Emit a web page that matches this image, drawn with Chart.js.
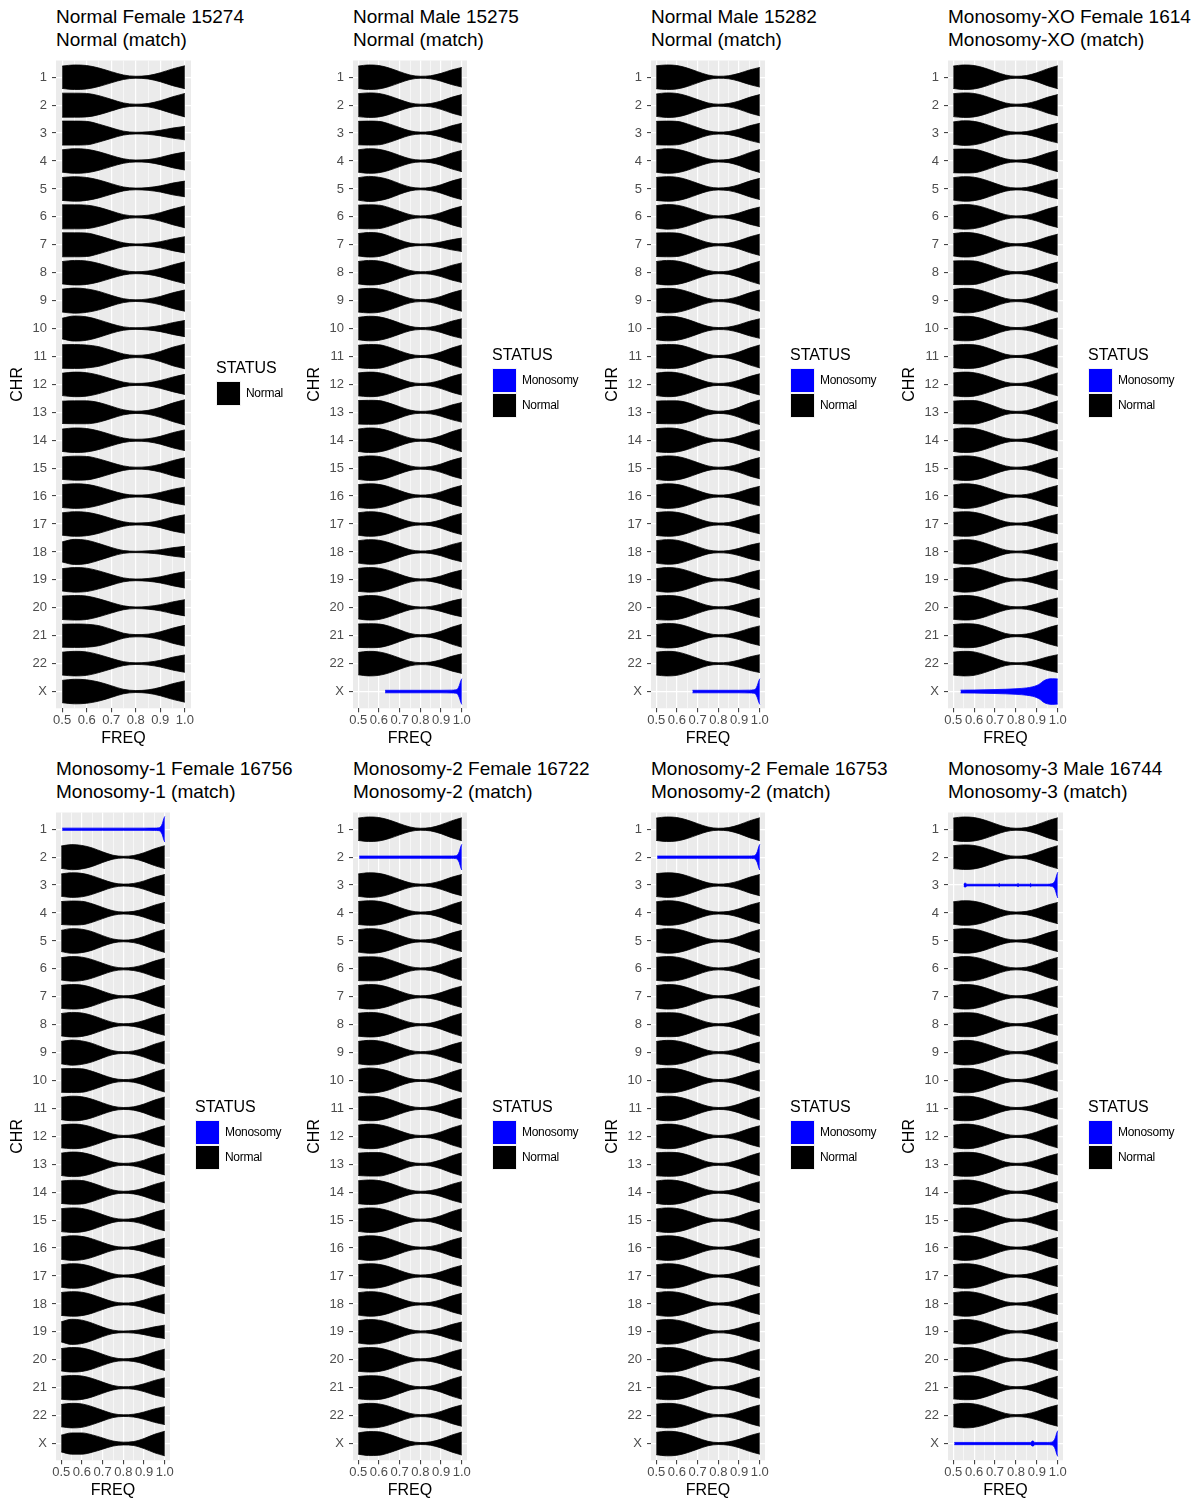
<!DOCTYPE html>
<html lang="en">
<head>
<meta charset="UTF-8">
<title>Allele frequency violins by chromosome</title>
<style>
  body {
    margin: 0;
    background: #fff;
    font-family: "Liberation Sans", Arial, sans-serif;
  }
  #page {
    position: relative;
    width: 1204px;
    height: 1502px;
    overflow: hidden;
  }
  canvas { position: absolute; }
  .ptitle {
    position: absolute;
    font-size: 19px;
    line-height: 23px;
    color: #000;
    white-space: nowrap;
  }
  .legend { position: absolute; }
  .legend .lt {
    font-size: 16px;
    line-height: 18px;
    height: 22px;
  }
  .legend .row {
    position: relative;
    height: 25px;
  }
  .legend .key {
    position: absolute;
    left: 0; top: 0;
    width: 25px; height: 25px;
    background: #f2f2f2;
  }
  .legend .key i {
    position: absolute;
    left: 1px; top: 1px;
    width: 23px; height: 23px;
  }
  .legend .lab {
    position: absolute;
    left: 30px;
    top: 0;
    font-size: 12px;
    line-height: 25px;
    letter-spacing: -0.3px;
    white-space: nowrap;
  }
</style>
<script src="https://cdn.jsdelivr.net/npm/chart.js"></script>
</head>
<body>
<div id="page"></div>

<script>
const CHR = ['1','2','3','4','5','6','7','8','9','10','11','12','13','14','15','16','17','18','19','20','21','22','X'];
const FREQ_TICKS = [0.5, 0.6, 0.7, 0.8, 0.9, 1.0];
const FREQ_MINOR = [0.55, 0.65, 0.75, 0.85, 0.95];
// x positions where the violin half-widths below were read
const GRID_X = [0.5, 0.55, 0.6, 0.65, 0.7, 0.75, 0.8, 0.85, 0.9, 0.95, 1.0];

const TITLES = ['Normal Female 15274', 'Normal Male 15275', 'Normal Male 15282', 'Monosomy-XO Female 1614',
                'Monosomy-1 Female 16756', 'Monosomy-2 Female 16722', 'Monosomy-2 Female 16753', 'Monosomy-3 Male 16744'];
const SUBTITLES = ['Normal (match)', 'Normal (match)', 'Normal (match)', 'Monosomy-XO (match)',
                   'Monosomy-1 (match)', 'Monosomy-2 (match)', 'Monosomy-2 (match)', 'Monosomy-3 (match)'];
const STATUS_LEVELS = ['Monosomy', 'Normal'];
const STATUS_COLORS = ['#0000FF', '#000000'];

// half-widths of the Normal violins (row units), one row per chromosome, null = Monosomy row
const P1_W = [
  [.40,.44,.42,.33,.20,.08,.035,.06,.16,.30,.41],
  [.43,.43,.42,.34,.21,.08,.035,.06,.16,.30,.42],
  [.43,.43,.42,.32,.19,.07,.03,.045,.10,.18,.24],
  [.40,.44,.42,.33,.20,.08,.035,.05,.13,.24,.32],
  [.41,.44,.41,.32,.19,.07,.03,.05,.11,.21,.28],
  [.43,.43,.42,.34,.21,.08,.035,.06,.15,.28,.39],
  [.43,.43,.42,.32,.19,.07,.03,.05,.11,.21,.29],
  [.40,.44,.42,.33,.20,.08,.035,.06,.15,.28,.39],
  [.41,.45,.42,.33,.19,.07,.03,.06,.15,.28,.38],
  [.37,.45,.42,.31,.17,.06,.03,.05,.11,.21,.29],
  [.42,.43,.41,.35,.22,.09,.04,.07,.18,.33,.44],
  [.40,.44,.42,.33,.20,.08,.035,.055,.14,.26,.36],
  [.40,.41,.41,.35,.22,.09,.04,.07,.18,.33,.45],
  [.40,.44,.42,.33,.20,.08,.035,.055,.14,.27,.37],
  [.40,.43,.42,.33,.20,.08,.035,.055,.14,.27,.37],
  [.41,.44,.42,.33,.20,.08,.035,.05,.13,.24,.32],
  [.40,.44,.42,.33,.20,.08,.035,.05,.13,.25,.33],
  [.36,.45,.42,.30,.16,.05,.025,.04,.08,.15,.20],
  [.40,.44,.42,.32,.19,.07,.03,.05,.11,.21,.29],
  [.42,.44,.42,.32,.19,.07,.03,.05,.11,.21,.29],
  [.41,.42,.41,.36,.23,.09,.04,.055,.14,.27,.37],
  [.41,.44,.42,.32,.19,.07,.03,.05,.12,.23,.31],
  [.40,.44,.42,.34,.21,.08,.035,.06,.15,.28,.38]
];
const P2_W = [
  [.40,.44,.42,.33,.20,.08,.035,.055,.14,.26,.35],
  [.41,.44,.42,.33,.20,.08,.035,.06,.15,.28,.38],
  [.42,.43,.42,.33,.20,.08,.035,.055,.14,.26,.35],
  [.40,.44,.42,.33,.20,.08,.035,.06,.15,.28,.38],
  [.40,.45,.42,.33,.19,.07,.03,.06,.15,.28,.38],
  [.42,.43,.42,.33,.20,.08,.035,.06,.15,.28,.38],
  [.40,.44,.42,.31,.17,.06,.03,.045,.10,.18,.24],
  [.40,.44,.42,.33,.20,.08,.035,.055,.14,.26,.35],
  [.41,.44,.42,.33,.20,.08,.035,.06,.15,.28,.38],
  [.40,.44,.42,.33,.20,.08,.035,.055,.14,.26,.35],
  [.40,.43,.42,.33,.20,.08,.035,.06,.16,.30,.41],
  [.41,.44,.42,.33,.20,.08,.035,.06,.15,.28,.38],
  [.42,.43,.42,.33,.20,.08,.035,.055,.14,.26,.35],
  [.40,.44,.42,.33,.20,.08,.035,.06,.16,.30,.41],
  [.40,.44,.42,.33,.20,.08,.035,.06,.15,.28,.38],
  [.41,.44,.42,.33,.20,.08,.035,.06,.15,.28,.38],
  [.40,.44,.42,.33,.20,.08,.035,.06,.15,.28,.38],
  [.40,.44,.42,.33,.20,.08,.035,.055,.14,.26,.35],
  [.41,.44,.42,.33,.20,.08,.035,.055,.14,.26,.35],
  [.40,.44,.42,.32,.19,.07,.03,.05,.13,.24,.32],
  [.42,.43,.42,.34,.21,.08,.035,.06,.16,.30,.41],
  [.40,.44,.42,.33,.20,.08,.035,.055,.14,.26,.35],
  null
];
const P3_W = [
  [.41,.44,.42,.33,.20,.08,.035,.055,.14,.26,.35],
  [.40,.44,.42,.33,.20,.08,.035,.06,.15,.28,.38],
  [.42,.43,.42,.33,.20,.08,.035,.055,.14,.26,.35],
  [.40,.44,.42,.33,.20,.08,.035,.06,.16,.30,.41],
  [.41,.44,.42,.33,.20,.08,.035,.06,.15,.28,.38],
  [.40,.44,.42,.33,.20,.08,.035,.055,.14,.26,.35],
  [.42,.43,.42,.33,.20,.08,.035,.06,.15,.28,.38],
  [.40,.44,.42,.33,.20,.08,.035,.06,.16,.30,.41],
  [.41,.44,.42,.33,.20,.08,.035,.06,.15,.28,.38],
  [.40,.44,.42,.33,.20,.08,.035,.055,.14,.26,.35],
  [.41,.43,.42,.34,.21,.08,.035,.06,.16,.30,.41],
  [.40,.44,.42,.33,.20,.08,.035,.06,.15,.28,.38],
  [.40,.41,.41,.35,.22,.09,.04,.07,.18,.33,.44],
  [.41,.44,.42,.33,.20,.08,.035,.06,.15,.28,.38],
  [.40,.44,.42,.33,.20,.08,.035,.06,.15,.28,.38],
  [.40,.44,.42,.33,.20,.08,.035,.055,.14,.26,.35],
  [.41,.44,.42,.33,.20,.08,.035,.055,.14,.26,.35],
  [.40,.44,.42,.32,.19,.07,.03,.05,.13,.24,.32],
  [.40,.44,.42,.33,.20,.08,.035,.055,.14,.26,.35],
  [.42,.44,.42,.33,.20,.08,.035,.055,.14,.26,.35],
  [.40,.44,.42,.33,.20,.08,.035,.055,.14,.26,.35],
  [.41,.44,.42,.32,.19,.07,.03,.05,.13,.24,.32],
  null
];
const P4_W = [
  [.40,.44,.42,.33,.20,.08,.035,.06,.16,.30,.41],
  [.41,.44,.42,.33,.20,.08,.035,.06,.15,.28,.38],
  [.40,.44,.42,.33,.20,.08,.035,.055,.14,.26,.35],
  [.42,.43,.42,.33,.20,.08,.035,.06,.15,.28,.38],
  [.40,.44,.42,.33,.20,.08,.035,.055,.14,.26,.35],
  [.41,.44,.42,.33,.20,.08,.035,.06,.15,.28,.38],
  [.40,.44,.42,.33,.20,.08,.035,.06,.15,.28,.38],
  [.42,.43,.42,.33,.20,.08,.035,.06,.15,.28,.38],
  [.40,.44,.42,.33,.20,.08,.035,.06,.16,.30,.41],
  [.41,.44,.42,.33,.20,.08,.035,.06,.15,.28,.38],
  [.40,.43,.42,.34,.21,.08,.035,.06,.16,.30,.41],
  [.41,.44,.42,.33,.20,.08,.035,.06,.16,.30,.41],
  [.40,.42,.42,.34,.21,.08,.035,.06,.16,.30,.41],
  [.40,.44,.42,.33,.20,.08,.035,.06,.15,.28,.38],
  [.41,.44,.42,.33,.20,.08,.035,.06,.15,.28,.38],
  [.40,.44,.42,.33,.20,.08,.035,.06,.15,.28,.38],
  [.42,.44,.42,.33,.20,.08,.035,.055,.14,.26,.35],
  [.40,.44,.42,.32,.19,.07,.03,.05,.13,.24,.32],
  [.40,.44,.42,.33,.20,.08,.035,.055,.14,.26,.35],
  [.41,.44,.42,.33,.20,.08,.035,.055,.14,.26,.35],
  [.40,.43,.42,.34,.21,.08,.035,.06,.15,.28,.38],
  [.41,.44,.42,.32,.19,.07,.03,.05,.13,.24,.32],
  null
];
const P5_W = [
  null,
  [.40,.45,.42,.33,.19,.07,.03,.06,.16,.30,.41],
  [.40,.44,.42,.33,.20,.08,.035,.06,.15,.28,.38],
  [.41,.43,.42,.33,.20,.08,.035,.06,.15,.28,.38],
  [.38,.44,.42,.33,.19,.07,.03,.06,.16,.30,.41],
  [.40,.44,.42,.33,.20,.08,.035,.06,.15,.28,.38],
  [.41,.44,.42,.33,.20,.08,.035,.06,.16,.30,.41],
  [.40,.44,.42,.33,.20,.08,.035,.06,.15,.28,.38],
  [.40,.45,.42,.33,.19,.07,.03,.06,.16,.30,.41],
  [.42,.43,.42,.33,.20,.08,.035,.06,.16,.30,.41],
  [.40,.44,.42,.33,.20,.08,.035,.06,.16,.30,.41],
  [.41,.44,.42,.33,.20,.08,.035,.06,.15,.28,.38],
  [.40,.44,.42,.33,.20,.08,.035,.06,.15,.28,.38],
  [.40,.43,.42,.33,.20,.08,.035,.06,.15,.28,.38],
  [.41,.44,.42,.33,.20,.08,.035,.06,.15,.28,.38],
  [.40,.44,.42,.33,.20,.08,.035,.055,.14,.26,.35],
  [.40,.44,.42,.33,.20,.08,.035,.06,.15,.28,.38],
  [.41,.44,.42,.33,.20,.08,.035,.055,.14,.26,.35],
  [.36,.45,.42,.31,.17,.06,.03,.045,.10,.18,.24],
  [.40,.44,.42,.33,.20,.08,.035,.06,.15,.28,.38],
  [.41,.44,.42,.33,.20,.08,.035,.055,.14,.26,.35],
  [.40,.44,.42,.32,.19,.07,.03,.05,.13,.24,.32],
  [.30,.38,.38,.31,.20,.09,.05,.07,.18,.33,.44]
];
const P6_W = [
  [.40,.44,.42,.33,.20,.08,.035,.06,.16,.30,.41],
  null,
  [.40,.44,.42,.33,.20,.08,.035,.06,.15,.28,.38],
  [.41,.44,.42,.33,.20,.08,.035,.06,.16,.30,.41],
  [.40,.44,.42,.33,.20,.08,.035,.06,.15,.28,.38],
  [.42,.43,.42,.33,.20,.08,.035,.06,.16,.30,.41],
  [.40,.44,.42,.33,.20,.08,.035,.06,.15,.28,.38],
  [.41,.44,.42,.33,.20,.08,.035,.06,.16,.30,.41],
  [.40,.44,.42,.33,.20,.08,.035,.06,.15,.28,.38],
  [.40,.45,.42,.33,.19,.07,.03,.06,.16,.30,.41],
  [.41,.44,.42,.33,.20,.08,.035,.06,.15,.28,.38],
  [.40,.44,.42,.33,.20,.08,.035,.06,.16,.30,.41],
  [.40,.42,.42,.34,.21,.08,.035,.06,.16,.30,.41],
  [.41,.44,.42,.33,.20,.08,.035,.06,.15,.28,.38],
  [.40,.44,.42,.33,.20,.08,.035,.06,.16,.30,.41],
  [.40,.44,.42,.33,.20,.08,.035,.06,.15,.28,.38],
  [.41,.44,.42,.33,.20,.08,.035,.06,.15,.28,.38],
  [.40,.44,.42,.33,.20,.08,.035,.06,.15,.28,.38],
  [.40,.44,.42,.33,.20,.08,.035,.055,.14,.26,.35],
  [.41,.44,.42,.33,.20,.08,.035,.06,.15,.28,.38],
  [.40,.43,.42,.34,.21,.08,.035,.06,.16,.30,.41],
  [.40,.44,.42,.33,.20,.08,.035,.06,.15,.28,.38],
  [.38,.43,.42,.33,.20,.08,.035,.06,.16,.30,.41]
];
const P7_W = [
  [.40,.44,.42,.33,.20,.08,.035,.06,.16,.30,.41],
  null,
  [.41,.44,.42,.33,.20,.08,.035,.06,.15,.28,.38],
  [.40,.44,.42,.33,.20,.08,.035,.06,.15,.28,.38],
  [.40,.44,.42,.33,.20,.08,.035,.06,.16,.30,.41],
  [.41,.44,.42,.33,.20,.08,.035,.06,.15,.28,.38],
  [.40,.44,.42,.33,.20,.08,.035,.06,.15,.28,.38],
  [.42,.43,.42,.33,.20,.08,.035,.06,.16,.30,.41],
  [.40,.44,.42,.33,.20,.08,.035,.06,.15,.28,.38],
  [.41,.44,.42,.33,.20,.08,.035,.06,.15,.28,.38],
  [.40,.44,.42,.33,.20,.08,.035,.06,.16,.30,.41],
  [.40,.44,.42,.33,.20,.08,.035,.06,.15,.28,.38],
  [.41,.43,.42,.34,.21,.08,.035,.06,.16,.30,.41],
  [.40,.44,.42,.33,.20,.08,.035,.06,.15,.28,.38],
  [.40,.44,.42,.33,.20,.08,.035,.06,.15,.28,.38],
  [.41,.44,.42,.33,.20,.08,.035,.055,.14,.26,.35],
  [.40,.44,.42,.33,.20,.08,.035,.06,.15,.28,.38],
  [.40,.44,.42,.33,.20,.08,.035,.06,.15,.28,.38],
  [.41,.44,.42,.33,.20,.08,.035,.055,.14,.26,.35],
  [.40,.44,.42,.33,.20,.08,.035,.06,.15,.28,.38],
  [.40,.43,.42,.34,.21,.08,.035,.06,.15,.28,.38],
  [.41,.44,.42,.33,.20,.08,.035,.06,.15,.28,.38],
  [.40,.44,.42,.33,.20,.08,.035,.06,.15,.28,.38]
];
const P8_W = [
  [.40,.44,.42,.33,.20,.08,.035,.06,.16,.30,.41],
  [.41,.44,.42,.33,.20,.08,.035,.06,.16,.30,.41],
  null,
  [.40,.44,.42,.33,.20,.08,.035,.06,.15,.28,.38],
  [.41,.44,.42,.33,.20,.08,.035,.06,.15,.28,.38],
  [.40,.44,.42,.33,.20,.08,.035,.06,.16,.30,.41],
  [.40,.44,.42,.33,.20,.08,.035,.06,.15,.28,.38],
  [.41,.43,.42,.33,.20,.08,.035,.06,.15,.28,.38],
  [.40,.44,.42,.33,.20,.08,.035,.06,.16,.30,.41],
  [.40,.44,.42,.33,.20,.08,.035,.06,.15,.28,.38],
  [.41,.44,.42,.33,.20,.08,.035,.06,.15,.28,.38],
  [.40,.44,.42,.33,.20,.08,.035,.06,.16,.30,.41],
  [.40,.43,.42,.34,.21,.08,.035,.06,.15,.28,.38],
  [.41,.44,.42,.33,.20,.08,.035,.06,.15,.28,.38],
  [.40,.44,.42,.33,.20,.08,.035,.06,.15,.28,.38],
  [.40,.44,.42,.33,.20,.08,.035,.06,.15,.28,.38],
  [.41,.44,.42,.33,.20,.08,.035,.06,.15,.28,.38],
  [.40,.44,.42,.33,.20,.08,.035,.06,.15,.28,.38],
  [.40,.44,.42,.33,.20,.08,.035,.055,.14,.26,.35],
  [.41,.44,.42,.33,.20,.08,.035,.06,.15,.28,.38],
  [.40,.43,.42,.34,.21,.08,.035,.06,.16,.30,.41],
  [.40,.44,.42,.33,.20,.08,.035,.06,.15,.28,.38],
  null
];

// Monosomy violins: their own x positions and half-widths
const P2_MONO_X = [0.63, 0.7, 0.8, 0.9, 0.95, 0.97, 0.98, 0.988, 0.995, 1.0];
const P2_MONO_W = [0.045, 0.045, 0.045, 0.045, 0.05, 0.06, 0.1, 0.22, 0.38, 0.46];
const P3_MONO_X = [0.675, 0.7, 0.8, 0.9, 0.95, 0.97, 0.98, 0.988, 0.995, 1.0];
const P3_MONO_W = [0.045, 0.045, 0.045, 0.045, 0.05, 0.06, 0.1, 0.22, 0.38, 0.46];
const P4_MONO_X = [0.535, 0.6, 0.7, 0.8, 0.85, 0.88, 0.9, 0.915, 0.93, 0.95, 0.975, 1.0];
const P4_MONO_W = [0.05, 0.055, 0.07, 0.1, 0.13, 0.17, 0.22, 0.28, 0.37, 0.44, 0.46, 0.45];
const P5_MONO_X = [0.505, 0.6, 0.7, 0.8, 0.9, 0.95, 0.97, 0.98, 0.988, 0.995, 1.0];
const P5_MONO_W = [0.04, 0.04, 0.04, 0.04, 0.04, 0.042, 0.05, 0.09, 0.2, 0.38, 0.46];
const P6_MONO_X = [0.505, 0.6, 0.7, 0.8, 0.9, 0.95, 0.97, 0.98, 0.988, 0.995, 1.0];
const P6_MONO_W = [0.04, 0.04, 0.04, 0.04, 0.04, 0.042, 0.05, 0.09, 0.2, 0.38, 0.46];
const P7_MONO_X = [0.505, 0.6, 0.7, 0.8, 0.9, 0.95, 0.97, 0.98, 0.988, 0.995, 1.0];
const P7_MONO_W = [0.04, 0.04, 0.04, 0.04, 0.04, 0.042, 0.05, 0.09, 0.2, 0.38, 0.46];
const P8_MONO3_X = [0.55, 0.555, 0.56, 0.565, 0.6, 0.715, 0.72, 0.725, 0.805, 0.81, 0.815, 0.865, 0.87, 0.875, 0.95, 0.97, 0.98, 0.988, 0.995, 1.0];
const P8_MONO3_W = [0.03, 0.07, 0.07, 0.03, 0.03, 0.03, 0.06, 0.03, 0.03, 0.06, 0.03, 0.03, 0.06, 0.03, 0.03, 0.045, 0.08, 0.18, 0.36, 0.46];
const P8_MONOX_X = [0.505, 0.6, 0.7, 0.8, 0.87, 0.878, 0.882, 0.89, 0.95, 0.97, 0.98, 0.988, 0.995, 1.0];
const P8_MONOX_W = [0.04, 0.04, 0.04, 0.04, 0.04, 0.09, 0.09, 0.04, 0.04, 0.05, 0.09, 0.2, 0.38, 0.46];

const PANEL_W = [P1_W, P2_W, P3_W, P4_W, P5_W, P6_W, P7_W, P8_W];
const PANEL_MONO = [
  [],
  [{row: 22, x: P2_MONO_X, w: P2_MONO_W}],
  [{row: 22, x: P3_MONO_X, w: P3_MONO_W}],
  [{row: 22, x: P4_MONO_X, w: P4_MONO_W}],
  [{row: 0, x: P5_MONO_X, w: P5_MONO_W}],
  [{row: 1, x: P6_MONO_X, w: P6_MONO_W}],
  [{row: 1, x: P7_MONO_X, w: P7_MONO_W}],
  [{row: 2, x: P8_MONO3_X, w: P8_MONO3_W}, {row: 22, x: P8_MONOX_X, w: P8_MONOX_W}]
];
const PANEL_LEVELS = [['Normal'], STATUS_LEVELS, STATUS_LEVELS, STATUS_LEVELS,
                      STATUS_LEVELS, STATUS_LEVELS, STATUS_LEVELS, STATUS_LEVELS];

// layout: chart area left/right per panel, rows start at 0 and 752
const AREA_LEFT = [56, 353, 651, 948, 56, 353, 651, 948];
const AREA_RIGHT = [191, 467, 765, 1063, 170, 467, 765, 1063];
const ROW_TOP = [0, 0, 0, 0, 752, 752, 752, 752];

Chart.defaults.font.family = '"Liberation Sans", Arial, sans-serif';

const panelBg = {
  id: 'panelBg',
  beforeDraw(chart) {
    const {ctx, chartArea: a} = chart;
    ctx.save();
    ctx.fillStyle = '#EBEBEB';
    ctx.fillRect(a.left, a.top, a.right - a.left, a.bottom - a.top);
    ctx.restore();
  }
};

function violinSets(widths, monos) {
  const sets = [];
  CHR.forEach((c, i) => {
    let xs = GRID_X, ws = widths[i], color = STATUS_COLORS[1];
    const m = monos.find(d => d.row === i);
    if (m) { xs = m.x; ws = m.w; color = STATUS_COLORS[0]; }
    const base = {
      borderColor: color, backgroundColor: color, borderWidth: 0.8,
      pointRadius: 0, cubicInterpolationMode: 'monotone'
    };
    sets.push(Object.assign({}, base, {
      data: xs.map((x, k) => ({x: x, y: i - ws[k]})), fill: false
    }));
    sets.push(Object.assign({}, base, {
      data: xs.map((x, k) => ({x: x, y: i + ws[k]})), fill: '-1'
    }));
  });
  return sets;
}

const isMajor = v => FREQ_TICKS.includes(v);

function makePanel(p) {
  const page = document.getElementById('page');
  const A = AREA_LEFT[p], R = AREA_RIGHT[p], top = ROW_TOP[p];
  const L = A - 47;

  const t = document.createElement('div');
  t.className = 'ptitle';
  t.style.left = A + 'px';
  t.style.top = (top + 5) + 'px';
  t.innerHTML = TITLES[p] + '<br>' + SUBTITLES[p];
  page.appendChild(t);

  const cv = document.createElement('canvas');
  cv.width = R - L + 30;
  cv.height = 712;
  cv.style.left = L + 'px';
  cv.style.top = (top + 40) + 'px';
  page.appendChild(cv);

  new Chart(cv, {
    type: 'line',
    data: { datasets: violinSets(PANEL_W[p], PANEL_MONO[p]) },
    options: {
      responsive: false,
      animation: false,
      events: [],
      layout: { padding: { top: 20.5, right: 30, bottom: 0, left: 0 } },
      plugins: { legend: { display: false }, tooltip: { enabled: false } },
      scales: {
        x: {
          type: 'linear', min: 0.475, max: 1.025,
          afterBuildTicks: ax => { ax.ticks = FREQ_TICKS.concat(FREQ_MINOR).sort().map(v => ({value: v})); },
          afterFit: ax => { ax.height = 43.7; },
          border: { display: false },
          grid: {
            color: '#FFFFFF',
            lineWidth: c => (c.tick && isMajor(c.tick.value)) ? 1.2 : 0.6,
            tickColor: c => (c.tick && isMajor(c.tick.value)) ? '#333333' : 'rgba(0,0,0,0)',
            tickLength: 4, tickWidth: 1
          },
          ticks: {
            autoSkip: false, maxRotation: 0, minRotation: 0, padding: 0,
            color: '#4D4D4D', font: { size: 13 },
            callback: v => isMajor(v) ? v.toFixed(1) : ''
          },
          title: { display: true, text: 'FREQ', color: '#000', font: { size: 16, lineHeight: 1.125 }, padding: { top: 0, bottom: 4 } }
        },
        y: {
          type: 'linear', reverse: true, min: -0.6, max: 22.6,
          afterBuildTicks: ax => { ax.ticks = CHR.map((c, i) => ({value: i})); },
          afterFit: ax => { ax.width = 47; },
          border: { display: false },
          grid: { color: '#FFFFFF', lineWidth: 1.2, tickColor: '#333333', tickLength: 4, tickWidth: 1 },
          ticks: {
            autoSkip: false, padding: 5, color: '#4D4D4D', font: { size: 13 },
            callback: v => CHR[v]
          },
          title: { display: true, text: 'CHR', color: '#000', font: { size: 16, lineHeight: 1.125 }, padding: { top: 0, bottom: 0 } }
        }
      }
    },
    plugins: [panelBg]
  });

  // legend
  const levels = PANEL_LEVELS[p];
  const lg = document.createElement('div');
  lg.className = 'legend';
  lg.style.left = (R + 25) + 'px';
  lg.style.top = (top + 382 - 11 - levels.length * 12.5) + 'px';
  let html = '<div class="lt">STATUS</div>';
  levels.forEach(lv => {
    const col = STATUS_COLORS[STATUS_LEVELS.indexOf(lv)];
    html += '<div class="row"><span class="key"><i style="background:' + col + '"></i></span><span class="lab">' + lv + '</span></div>';
  });
  lg.innerHTML = html;
  page.appendChild(lg);
}

for (let p = 0; p < 8; p++) makePanel(p);
</script>
</body>
</html>
